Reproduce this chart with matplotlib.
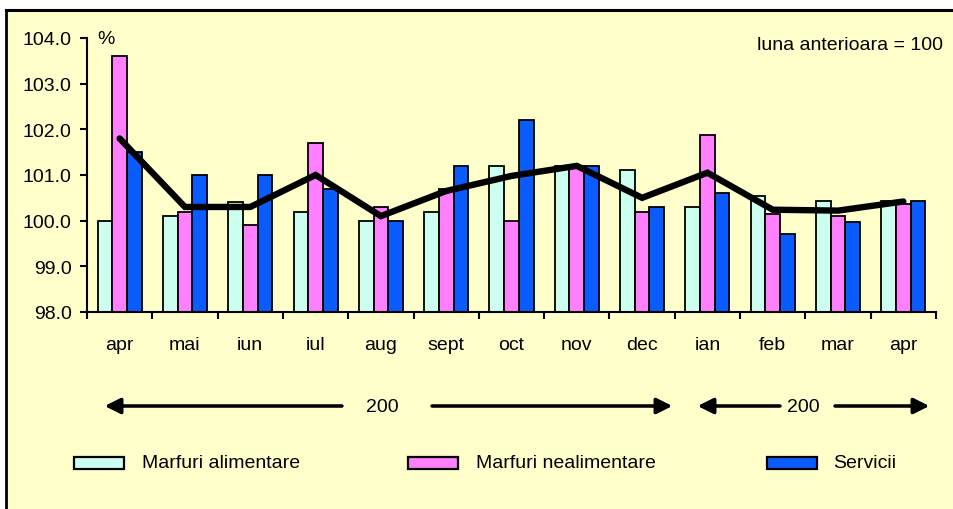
import matplotlib
matplotlib.use("Agg")
import matplotlib.pyplot as plt
from matplotlib.patches import Rectangle
from matplotlib.lines import Line2D
import numpy as np

plt.rcParams['font.family'] = ['Liberation Sans', 'DejaVu Sans']

# Data
months = ['apr', 'mai', 'iun', 'iul', 'aug', 'sept', 'oct', 'nov', 'dec',
          'ian', 'feb', 'mar', 'apr']
alimentare = [100.0, 100.1, 100.4, 100.2, 100.0, 100.2, 101.2, 101.2, 101.1,
              100.3, 100.55, 100.42, 100.44]
nealimentare = [103.6, 100.2, 99.9, 101.7, 100.3, 100.7, 100.0, 101.2, 100.2,
                101.88, 100.15, 100.1, 100.37]
servicii = [101.5, 101.0, 101.0, 100.7, 100.0, 101.2, 102.2, 101.2, 100.3,
            100.6, 99.7, 99.96, 100.42]
total = [101.8, 100.3, 100.3, 101.0, 100.1, 100.65, 100.98, 101.2, 100.5,
         101.05, 100.24, 100.22, 100.42]
series_names = ['Marfuri alimentare', 'Marfuri nealimentare', 'Servicii']
series_colors = ['#CCFFF0', '#FF80FF', '#0A5CFF']
year_label = '200'

W, H = 954, 510
fig = plt.figure(figsize=(W / 100, H / 100), dpi=100, facecolor='white')


def px(x, y):
    # image pixel coords (top-left origin) -> figure fraction
    return x / W, (H - y) / H


# yellow panel with black frame lines
x0, y0 = px(6, 11)
fig.patches.append(Rectangle((x0, 0), 1 - x0, y0, transform=fig.transFigure,
                             facecolor='#FFFFCC', edgecolor='none', zorder=-2))
fig.add_artist(Line2D([x0, 1], [y0, y0], transform=fig.transFigure,
                      color='black', lw=2.2))
fig.add_artist(Line2D([x0, x0], [0, y0], transform=fig.transFigure,
                      color='black', lw=2.0))

ax_l, ax_b = px(87, 313)
ax_r, ax_t = px(936, 39)
ax = fig.add_axes([ax_l, ax_b, ax_r - ax_l, ax_t - ax_b])
ax.set_facecolor('none')

x = np.arange(len(months))
bw = 0.225
for i, (vals, col) in enumerate(zip([alimentare, nealimentare, servicii],
                                    series_colors)):
    vals = np.array(vals)
    ax.bar(x + (i - 1) * bw, vals - 98, bottom=98, width=bw, color=col,
           edgecolor='black', linewidth=1.3, zorder=2)

ax.plot(x, total, color='black', lw=4.6, zorder=3, solid_capstyle='round',
        solid_joinstyle='miter')

ax.set_xlim(-0.5, len(months) - 0.5)
ax.set_ylim(98, 104)
ax.set_yticks(np.arange(98, 104.1, 1))
ax.set_yticklabels([f'{v:.1f}' for v in np.arange(98, 104.1, 1)], fontsize=14)
ax.set_xticks(np.arange(-0.5, len(months)), labels=[])
ax.set_xticks(x, labels=months, minor=True)
ax.tick_params(axis='x', which='major', length=5, width=1.5, direction='out')
ax.tick_params(axis='x', which='minor', length=0, pad=17, labelsize=14)
ax.tick_params(axis='y', length=5, width=1.5, pad=6)
for s in ['top', 'right']:
    ax.spines[s].set_visible(False)
for s in ['left', 'bottom']:
    ax.spines[s].set_linewidth(1.5)

fig.text(*px(97, 40), '%', fontsize=14, va='center', ha='left')
fig.text(*px(943, 46), 'luna anterioara = 100', fontsize=14, va='center',
         ha='right')

# year arrows
ay = 407
arrow_kw = dict(arrowstyle='-|>', lw=2.2, color='black', mutation_scale=24,
                shrinkA=0, shrinkB=0)
for start, tip in [(342, 105), (432, 672), (780, 698), (835, 929)]:
    fig.add_artist(plt.annotate('', xy=px(tip, ay), xytext=px(start, ay),
                                xycoords='figure fraction',
                                textcoords='figure fraction',
                                arrowprops=arrow_kw))
for cx in [382, 803]:
    fig.text(*px(cx, ay + 1), year_label, fontsize=14, ha='center',
             va='center')

# legend
for (rx, tx), name, col in zip([(74, 142), (408, 476), (767, 833)],
                               series_names, series_colors):
    lx, ly = px(rx, 470)
    fig.patches.append(Rectangle((lx, ly), 50 / W, 12 / H,
                                 transform=fig.transFigure, facecolor=col,
                                 edgecolor='black', lw=1.6))
    fig.text(*px(tx, 464), name, fontsize=14, ha='left', va='center')

fig.savefig('out.png', dpi=100)
